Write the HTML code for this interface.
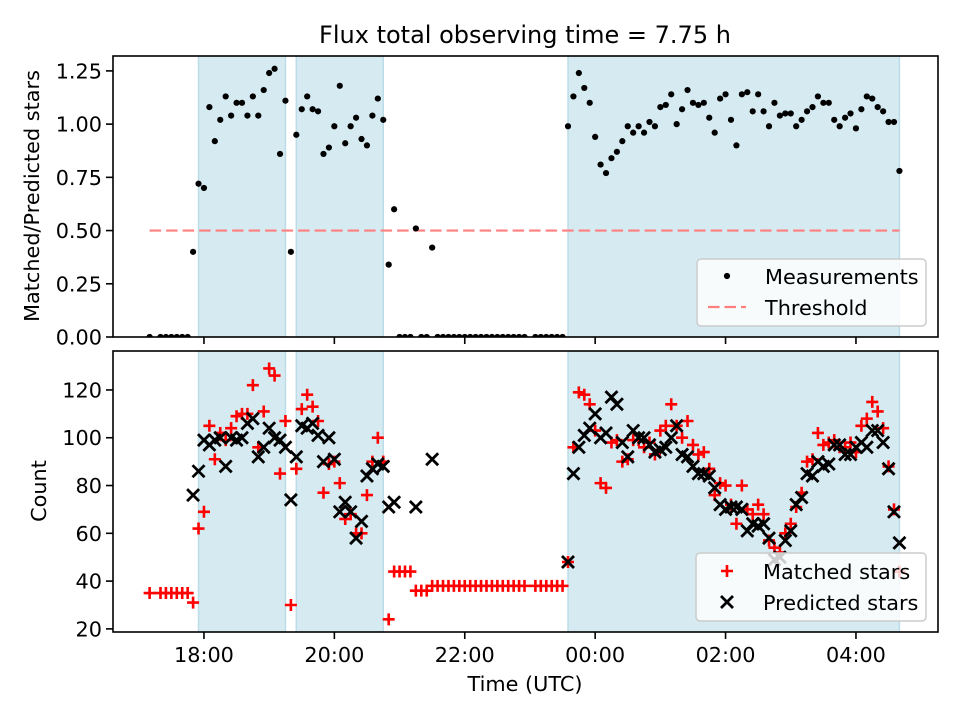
<!DOCTYPE html>
<html>
<head>
<meta charset="utf-8">
<style>
html,body{margin:0;padding:0;background:#fff;}
svg{display:block;font-family:"DejaVu Sans","Liberation Sans",sans-serif;}
</style>
</head>
<body>
<svg id="fig" width="960" height="720" viewBox="0 0 960 720" xmlns="http://www.w3.org/2000/svg"></svg>
<script>
// minutes after 17:00 UTC
const times = [10,20,25,30,35,40,45,
50,55,60,65,70,75,80,85,90,95,100,105,110,115,120,125,130,135,140,145,150,155,160,165,170,175,180,185,190,195,200,205,210,215,220,225,230,235,
240,245,250,255,260,265,270,275,280,285,290,295,300,305,310,315,320,325,330,335,340,345,350,355,
365,370,375,380,385,390,
395,400,405,410,415,420,425,430,435,440,445,450,455,460,465,470,475,480,485,490,495,500,505,510,515,520,525,530,535,540,545,550,555,560,565,570,575,580,585,590,595,600,605,610,615,620,625,630,635,640,645,650,655,660,665,670,675,680,685,690,695,700];
const ratioValues = [0,0,0,0,0,0,0,
.40,.72,.70,1.08,.92,1.02,1.13,1.04,1.10,1.10,1.04,1.13,1.04,1.16,1.24,1.26,.86,1.11,.40,.95,1.07,1.13,1.07,1.06,.86,.89,.99,1.18,.91,.99,1.03,.93,.90,1.04,1.12,1.02,.34,.60,
0,0,0,.51,0,0,.42,0,0,0,0,0,0,0,0,0,0,0,0,0,0,0,0,0,
0,0,0,0,0,0,
.99,1.13,1.24,1.17,1.10,.94,.81,.77,.84,.87,.92,.99,.96,.99,.96,1.01,.99,1.08,1.09,1.14,1.00,1.07,1.16,1.10,1.09,1.10,1.03,.96,1.12,1.14,1.02,.90,1.14,1.15,1.06,1.14,1.06,.99,1.10,1.04,1.05,1.05,.99,1.02,1.06,1.08,1.13,1.10,1.10,1.02,.99,1.03,1.05,.98,1.07,1.13,1.12,1.08,1.06,1.01,1.01,.78];
const matchedCounts = [35,35,35,35,35,35,35,
31,62,69,105,91,102,99,104,109,110,110,122,96,111,129,126,85,107,30,87,112,118,113,107,77,89,90,81,66,68,60,60,76,90,100,90,24,44,
44,44,44,36,36,36,38,38,38,38,38,38,38,38,38,38,38,38,38,38,38,38,38,38,
38,38,38,38,38,38,
48,96,119,118,114,103,81,79,98,99,90,91,99,99,96,98,93,103,105,114,105,100,107,97,93,94,87,76,81,80,72,64,80,70,68,72,68,57,54,52,60,64,71,77,90,91,102,97,98,99,96,96,98,94,105,108,115,111,104,88,70,44];
const predictedCounts = [null,null,null,null,null,null,null,
76,86,99,97,99,100,88,100,99,100,106,108,92,96,104,100,99,96,74,92,105,104,106,101,90,100,91,69,73,69,58,65,84,87,89,88,71,73,
null,null,null,71,null,null,91,null,null,null,null,null,null,null,null,null,null,null,null,null,null,null,null,null,
null,null,null,null,null,null,
48,85,96,101,104,110,100,102,117,114,98,92,103,100,100,97,94,95,96,100,105,93,92,88,85,85,84,79,72,70,71,71,70,61,64,63,64,58,49,50,57,61,72,75,85,84,90,88,89,97,97,93,93,96,98,96,103,103,98,87,69,56];
const spanStarts = [55,145,395];
const spanEnds = [135,225,700];
const thresholdValue = 0.5;
const xTickValues = [60,180,300,420,540,660];
const xTickLabels = ["18:00","20:00","22:00","00:00","02:00","04:00"];
const topTickValues = [0,0.25,0.5,0.75,1.0,1.25];
const topTickLabels = ["0.00","0.25","0.50","0.75","1.00","1.25"];
const botTickValues = [20,40,60,80,100,120];
const botTickLabels = ["20","40","60","80","100","120"];

const NS = "http://www.w3.org/2000/svg";
const svg = document.getElementById("fig");
const L = 113, R = 938;
const TOP = {t:56, b:337, min:0, max:1.320};
const BOT = {t:351, b:632, min:18.7, max:136.3};
const XMIN = -23.7, XMAX = 735.5;
function xs(m){ return L + (m - XMIN) / (XMAX - XMIN) * (R - L); }
function ys(ax, v){ return ax.b - (v - ax.min) / (ax.max - ax.min) * (ax.b - ax.t); }
function mk(tag, attrs, parent){
  const e = document.createElementNS(NS, tag);
  for (const k in attrs) e.setAttribute(k, attrs[k]);
  (parent || svg).appendChild(e);
  return e;
}

// clip paths
const defs = mk("defs", {});
const cpT = mk("clipPath", {id:"cpT"}, defs); mk("rect", {x:L, y:TOP.t, width:R-L, height:TOP.b-TOP.t}, cpT);
const cpB = mk("clipPath", {id:"cpB"}, defs); mk("rect", {x:L, y:BOT.t, width:R-L, height:BOT.b-BOT.t}, cpB);

// title
const title = mk("text", {x:525, y:43, "text-anchor":"middle", "font-size":"24px", fill:"#000"});
title.textContent = "Flux total observing time = 7.75 h";



function drawPanel(ax, clipId, name){
  const g = mk("g", {"clip-path":"url(#" + clipId + ")"});
  
  
  for (let i = 0; i < spanStarts.length; i++){
    const x0 = xs(spanStarts[i]), x1 = xs(spanEnds[i]);
    const r = mk("rect", {x:x0, y:ax.t, width:x1-x0, height:ax.b-ax.t, fill:"#d5eaf1", stroke:"#bcdde8", "stroke-width":1.5}, g);
    
    
  }
  return g;
}
function drawAxes(ax, name, tickVals, tickLabels, showXLabels){
  const frame = mk("rect", {x:L, y:ax.t, width:R-L, height:ax.b-ax.t, fill:"none", stroke:"#000", "stroke-width":1.6});
  
  
  for (let i = 0; i < tickVals.length; i++){
    const y = ys(ax, tickVals[i]);
    mk("line", {x1:L-7, x2:L, y1:y, y2:y, stroke:"#000", "stroke-width":1.6});
    const t = mk("text", {x:L-11, y:y+7.5, "text-anchor":"end", "font-size":"20.8px", fill:"#000"});
    t.textContent = tickLabels[i];
    
    
  }
  for (let i = 0; i < xTickValues.length; i++){
    const x = xs(xTickValues[i]);
    mk("line", {x1:x, x2:x, y1:ax.b, y2:ax.b+7, stroke:"#000", "stroke-width":1.6});
    if (showXLabels){
      const t = mk("text", {x:x, y:ax.b+30, "text-anchor":"middle", "font-size":"20.8px", fill:"#000"});
      t.textContent = xTickLabels[i];
      
      
    }
  }
}
function plus(parent, cx, cy, col){
  const p = mk("path", {d:"M"+(cx-6)+" "+cy+"H"+(cx+6)+"M"+cx+" "+(cy-6)+"V"+(cy+6), stroke:col, "stroke-width":2.6, fill:"none"}, parent);
  return p;
}
function cross(parent, cx, cy, col){
  const p = mk("path", {d:"M"+(cx-6)+" "+(cy-6)+"L"+(cx+6)+" "+(cy+6)+"M"+(cx-6)+" "+(cy+6)+"L"+(cx+6)+" "+(cy-6), stroke:col, "stroke-width":2.8, fill:"none"}, parent);
  return p;
}

// ---- top panel ----
const gT = drawPanel(TOP, "cpT", "ratio");
const thr = mk("line", {x1:xs(times[0]), x2:xs(times[times.length-1]), y1:ys(TOP, thresholdValue), y2:ys(TOP, thresholdValue), stroke:"#ff7f7f", "stroke-width":2.2, "stroke-dasharray":"11.5,5"}, gT);


for (let i = 0; i < times.length; i++){
  const c = mk("circle", {cx:xs(times[i]), cy:ys(TOP, ratioValues[i]), r:3.1, fill:"#000"}, gT);
  
  
}
drawAxes(TOP, "ratio", topTickValues, topTickLabels, false);

// ---- bottom panel ----
const gB = drawPanel(BOT, "cpB", "count");
for (let i = 0; i < times.length; i++){
  const p = plus(gB, xs(times[i]), ys(BOT, matchedCounts[i]), "#ff0000");
  
  
}
for (let i = 0; i < times.length; i++){
  if (predictedCounts[i] === null) continue;
  const p = cross(gB, xs(times[i]), ys(BOT, predictedCounts[i]), "#000");
  
  
}
drawAxes(BOT, "count", botTickValues, botTickLabels, true);

// axis titles
const yl1 = mk("text", {x:0, y:0, transform:"translate(39,196) rotate(-90)", "text-anchor":"middle", "font-size":"20.8px", fill:"#000"});
yl1.textContent = "Matched/Predicted stars";


const yl2 = mk("text", {x:0, y:0, transform:"translate(46,491) rotate(-90)", "text-anchor":"middle", "font-size":"20.8px", fill:"#000"});
yl2.textContent = "Count";


const xl = mk("text", {x:525, y:691, "text-anchor":"middle", "font-size":"20.8px", fill:"#000"});
xl.textContent = "Time (UTC)";



// legends
const lg1 = mk("g", {});


mk("rect", {x:697, y:259, width:229, height:67, rx:4, fill:"rgba(255,255,255,0.8)", stroke:"#cccccc", "stroke-width":1.5}, lg1);
mk("circle", {cx:727, cy:276, r:3.1, fill:"#000"}, lg1);
const le1 = mk("text", {x:765, y:284, "font-size":"20.8px", fill:"#000"}, lg1);
le1.textContent = "Measurements";


mk("line", {x1:708, x2:746, y1:307, y2:307, stroke:"#ff7f7f", "stroke-width":2.2, "stroke-dasharray":"11.5,5"}, lg1);
const le2 = mk("text", {x:765, y:315, "font-size":"20.8px", fill:"#000"}, lg1);
le2.textContent = "Threshold";



const lg2 = mk("g", {});


mk("rect", {x:696, y:553, width:230, height:68, rx:4, fill:"rgba(255,255,255,0.8)", stroke:"#cccccc", "stroke-width":1.5}, lg2);
plus(lg2, 727, 571, "#ff0000");
const le3 = mk("text", {x:763, y:579, "font-size":"20.8px", fill:"#000"}, lg2);
le3.textContent = "Matched stars";


cross(lg2, 727, 602, "#000");
const le4 = mk("text", {x:763, y:610, "font-size":"20.8px", fill:"#000"}, lg2);
le4.textContent = "Predicted stars";


</script>
</body>
</html>
